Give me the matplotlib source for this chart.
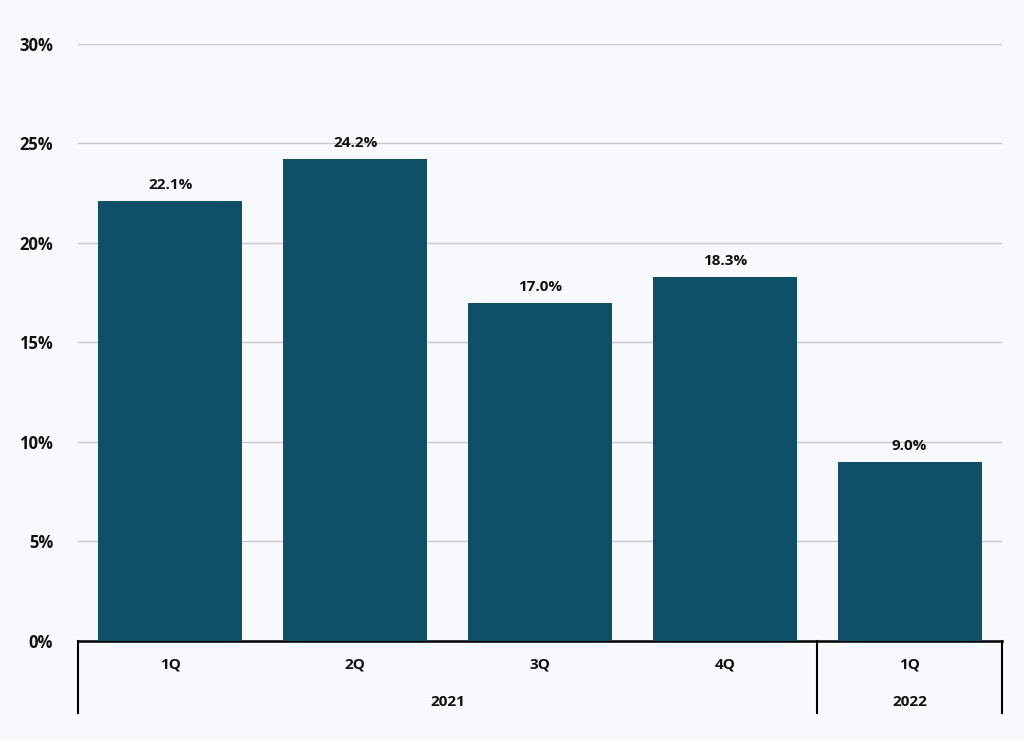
import matplotlib
matplotlib.use("Agg")
import matplotlib.pyplot as plt

quarters = ["1Q", "2Q", "3Q", "4Q", "1Q"]
values = [22.1, 24.2, 17.0, 18.3, 9.0]
years = ["2021", "2022"]
year_spans = [(0, 3), (4, 4)]
yticks = [0, 5, 10, 15, 20, 25, 30]

bg = "#f8f9fc"
plt.rcParams["font.family"] = "Open Sans"
fig = plt.figure(figsize=(10.24, 7.4), dpi=100, facecolor=bg)
ax = fig.add_axes([0.0762, 0.1338, 0.9023, 0.8068], facecolor=bg)
x = list(range(len(values)))
ax.bar(x, values, width=0.78, color="#0f5068", zorder=3)
for xi, v in zip(x, values):
    ax.text(xi, v + 0.45, f"{v:.1f}%", ha="center", va="bottom", fontsize=11, fontweight="bold", color="#111")
ax.set_xlim(-0.5, len(values) - 0.5)
ax.set_ylim(0, 30)
ax.set_yticks(yticks)
ax.set_yticklabels([f"{t}%" for t in yticks], fontsize=12, fontweight="bold", color="#111")
ax.yaxis.grid(True, color="#c8c8c8", linewidth=1, zorder=0)
ax.set_xticks([])
for s in ["top", "right", "left"]:
    ax.spines[s].set_visible(False)
ax.spines["bottom"].set_linewidth(1.8)
ax.spines["bottom"].set_color("black")
ax.tick_params(axis="y", length=0, pad=18)

trans = ax.get_xaxis_transform()
for xi, q in zip(x, quarters):
    ax.text(xi, -0.04, q, transform=trans, ha="center", va="center", fontsize=11, fontweight="bold", color="#111")
bounds = [-0.5, 3.5, 4.5]
for b in bounds:
    ax.plot([b, b], [0, -0.12], transform=trans, color="black", linewidth=1.5, clip_on=False)
for yr, (a, b) in zip(years, year_spans):
    ax.text((a + b) / 2, -0.102, yr, transform=trans, ha="center", va="center", fontsize=11, fontweight="bold", color="#111")

fig.savefig("out.png", dpi=100, facecolor=bg)
